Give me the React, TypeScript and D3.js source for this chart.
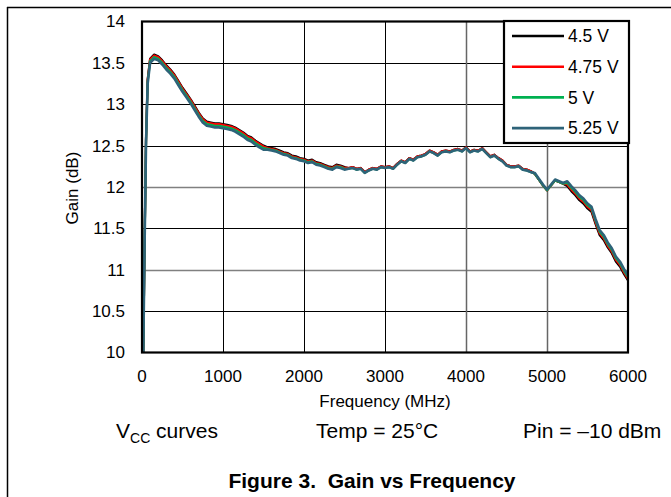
import React from 'react';
import * as d3 from 'd3';

const width = 671;
const height = 497;

// sample frequencies (MHz)
const freqs = [10, 30, 50, 70, 100, ...d3.range(150, 6001, 50)];

const gain45 = [
  9.5, 11.2, 12.6, 13.3, 13.55, 13.6, 13.58, 13.53, 13.47, 13.42, 13.36, 13.28, 13.2, 13.13, 13.06, 12.98, 12.9,
  12.83, 12.79, 12.78, 12.77, 12.77, 12.76, 12.75, 12.74, 12.72, 12.69, 12.66, 12.62, 12.6, 12.56, 12.53, 12.5,
  12.48, 12.47, 12.46, 12.44, 12.42, 12.41, 12.38, 12.37, 12.35, 12.34, 12.32, 12.33, 12.3, 12.29, 12.27, 12.25,
  12.24, 12.27, 12.26, 12.24,
  12.23, 12.24, 12.22, 12.23, 12.18, 12.21, 12.23, 12.22, 12.25, 12.24, 12.25, 12.23, 12.28, 12.32, 12.3, 12.35,
  12.33, 12.37, 12.38, 12.4, 12.44, 12.42, 12.39, 12.43, 12.44, 12.43, 12.45, 12.46, 12.44, 12.48, 12.43, 12.45,
  12.44, 12.47, 12.42, 12.37, 12.39, 12.35, 12.32, 12.27, 12.25, 12.25, 12.26, 12.22, 12.21, 12.19,
  12.16, 12.09, 12.02, 11.96, 12.02, 12.08, 12.06, 12.04,
  12.01, 11.95, 11.9, 11.84, 11.8, 11.74, 11.7, 11.55, 11.42, 11.36, 11.27, 11.2, 11.1, 11.04, 10.95, 10.87,
];

const gain475 = [
  9.5, 11.19, 12.59, 13.29, 13.54, 13.59, 13.57, 13.52, 13.46, 13.41, 13.35, 13.27, 13.19, 13.12, 13.05, 12.97, 12.89,
  12.82, 12.78, 12.77, 12.76, 12.76, 12.75, 12.74, 12.73, 12.71, 12.68, 12.65, 12.61, 12.59, 12.55, 12.52, 12.49,
  12.47, 12.46, 12.45, 12.43, 12.41, 12.4, 12.37, 12.36, 12.34, 12.33, 12.31, 12.32, 12.29, 12.28, 12.26, 12.24,
  12.23, 12.26, 12.25, 12.23,
  12.23, 12.24, 12.22, 12.23, 12.18, 12.21, 12.23, 12.22, 12.25, 12.24, 12.25, 12.23, 12.28, 12.32, 12.3, 12.35,
  12.33, 12.37, 12.38, 12.4, 12.44, 12.42, 12.39, 12.43, 12.44, 12.43, 12.45, 12.46, 12.44, 12.48, 12.43, 12.45,
  12.44, 12.47, 12.42, 12.37, 12.39, 12.35, 12.32, 12.27, 12.25, 12.25, 12.26, 12.22, 12.21, 12.19,
  12.16, 12.09, 12.02, 11.96, 12.02, 12.08, 12.06, 12.04,
  12.03, 11.97, 11.92, 11.86, 11.82, 11.76, 11.72, 11.57, 11.44, 11.38, 11.29, 11.22, 11.12, 11.06, 10.97, 10.89,
];

const gain5 = [
  9.5, 11.17, 12.57, 13.27, 13.52, 13.57, 13.55, 13.5, 13.44, 13.39, 13.33, 13.25, 13.17, 13.1, 13.03, 12.95, 12.87,
  12.8, 12.76, 12.75, 12.74, 12.74, 12.73, 12.72, 12.71, 12.69, 12.66, 12.63, 12.59, 12.57, 12.53, 12.5, 12.47,
  12.46, 12.45, 12.44, 12.42, 12.4, 12.39, 12.36, 12.35, 12.33, 12.32, 12.3, 12.31, 12.28, 12.27, 12.25, 12.23,
  12.22, 12.25, 12.24, 12.22,
  12.22, 12.23, 12.21, 12.22, 12.17, 12.2, 12.22, 12.21, 12.24, 12.23, 12.24, 12.22, 12.27, 12.31, 12.29, 12.34,
  12.32, 12.36, 12.37, 12.39, 12.43, 12.41, 12.38, 12.42, 12.43, 12.42, 12.44, 12.45, 12.43, 12.47, 12.42, 12.44,
  12.43, 12.46, 12.41, 12.36, 12.38, 12.34, 12.31, 12.26, 12.24, 12.24, 12.25, 12.21, 12.2, 12.18,
  12.16, 12.09, 12.02, 11.96, 12.02, 12.08, 12.06, 12.04,
  12.05, 11.99, 11.94, 11.88, 11.84, 11.78, 11.74, 11.59, 11.46, 11.4, 11.31, 11.24, 11.14, 11.08, 10.99, 10.91,
];

const gain525 = [
  9.5, 11.15, 12.55, 13.25, 13.5, 13.55, 13.53, 13.48, 13.42, 13.37, 13.31, 13.23, 13.15, 13.08, 13.01, 12.93, 12.85,
  12.78, 12.74, 12.73, 12.72, 12.72, 12.71, 12.7, 12.69, 12.67, 12.64, 12.61, 12.57, 12.55, 12.51, 12.48, 12.45,
  12.45, 12.44, 12.43, 12.41, 12.39, 12.38, 12.35, 12.34, 12.32, 12.31, 12.29, 12.3, 12.27, 12.26, 12.24, 12.22,
  12.21, 12.24, 12.23, 12.21,
  12.22, 12.23, 12.21, 12.22, 12.17, 12.2, 12.22, 12.21, 12.24, 12.23, 12.24, 12.22, 12.27, 12.31, 12.29, 12.34,
  12.32, 12.36, 12.37, 12.39, 12.43, 12.41, 12.38, 12.42, 12.43, 12.42, 12.44, 12.45, 12.43, 12.47, 12.42, 12.44,
  12.43, 12.46, 12.41, 12.36, 12.38, 12.34, 12.31, 12.26, 12.24, 12.24, 12.25, 12.21, 12.2, 12.18,
  12.17, 12.1, 12.03, 11.97, 12.03, 12.09, 12.07, 12.05,
  12.07, 12.01, 11.96, 11.9, 11.86, 11.8, 11.76, 11.61, 11.48, 11.42, 11.33, 11.26, 11.16, 11.1, 11.01, 10.93,
];

const seriesNames = ['4.5 V', '4.75 V', '5 V', '5.25 V'];
const seriesData = [gain45, gain475, gain5, gain525];
const seriesColors = ['#000000', '#ff0000', '#00b050', '#2e6379'];

const xTicks = [0, 1000, 2000, 3000, 4000, 5000, 6000];
const yTicks = [10, 10.5, 11, 11.5, 12, 12.5, 13, 13.5, 14];

const font = 'Arial, "Liberation Sans", sans-serif';

const App: React.FC = () => {
  const plot = { left: 142, right: 628, top: 21.5, bottom: 352.5 };

  const x = d3.scaleLinear().domain([0, 6000]).range([plot.left, plot.right]);
  const y = d3.scaleLinear().domain([10, 14]).range([plot.bottom, plot.top]);

  const line = d3.line<number>()
    .x((_, i) => x(freqs[i]))
    .y(d => y(d));

  // legend box
  const lg = { x: 504, y: 21, w: 125, h: 122 };
  const lgRow = (i: number) => lg.y + 15 + i * 30.7;

  return (
    <svg
      width={width}
      height={height}
      style={{ position: 'absolute', left: 0, top: 0, background: '#fff' }}
      fontFamily={font}
    >
      <rect x={0} y={0} width={width} height={height} fill="#fff" />
      {/* page frame */}
      <line x1={7} y1={7.5} x2={width} y2={7.5} stroke="#000" strokeWidth={1.5} />
      <line x1={7.5} y1={7} x2={7.5} y2={height} stroke="#000" strokeWidth={1.5} />

      <defs>
        <clipPath id="plotClip">
          <rect x={plot.left} y={plot.top} width={plot.right - plot.left} height={plot.bottom - plot.top} />
        </clipPath>
      </defs>

      {/* grid */}
      {yTicks.slice(1, -1).map(t => (
        <line key={'gy' + t} x1={plot.left} x2={plot.right} y1={Math.round(y(t)) + 0.5} y2={Math.round(y(t)) + 0.5}
          stroke={t === 12 || t === 11 ? '#808080' : '#000'} strokeWidth={t === 12 || t === 11 ? 1.5 : 1} />
      ))}
      {xTicks.slice(1, -1).map(t => (
        <line key={'gx' + t} y1={plot.top} y2={plot.bottom} x1={Math.round(x(t)) + 0.5} x2={Math.round(x(t)) + 0.5}
          stroke={t === 4000 || t === 5000 ? '#666' : '#000'} strokeWidth={t === 4000 || t === 5000 ? 1.5 : 1} />
      ))}

      {/* curves */}
      <g clipPath="url(#plotClip)">
        {seriesData.map((s, i) => (
          <path key={seriesNames[i]} d={line(s) || ''} fill="none" stroke={seriesColors[i]}
            strokeWidth={i === 3 ? 2.6 : 2.2} strokeLinejoin="round" />
        ))}
      </g>

      {/* plot border */}
      <rect x={plot.left} y={plot.top} width={plot.right - plot.left} height={plot.bottom - plot.top}
        fill="none" stroke="#000" strokeWidth={2.2} />

      {/* y ticks */}
      {yTicks.map(t => (
        <text key={'ty' + t} x={125} y={y(t)} dy="0.35em" textAnchor="end" fontSize={17} fill="#000">
          {d3.format('')(t)}
        </text>
      ))}
      {/* x ticks */}
      {xTicks.map(t => (
        <text key={'tx' + t} x={x(t)} y={381.5} textAnchor="middle" fontSize={17} fill="#000">
          {t}
        </text>
      ))}

      <text x={(plot.left + plot.right) / 2} y={407} textAnchor="middle" fontSize={17} fill="#000">
        Frequency (MHz)
      </text>
      <text transform={`translate(78,188) rotate(-90)`} textAnchor="middle" fontSize={17} fill="#000">
        Gain (dB)
      </text>

      {/* legend */}
      <rect x={lg.x} y={lg.y} width={lg.w} height={lg.h} fill="#fff" stroke="#000" strokeWidth={2.2} />
      {seriesNames.map((n, i) => (
        <g key={'lg' + n}>
          <line x1={512} x2={564} y1={lgRow(i)} y2={lgRow(i)} stroke={seriesColors[i]} strokeWidth={2.6} />
          <text x={568} y={lgRow(i)} dy="0.35em" fontSize={17.5} fill="#000">{n}</text>
        </g>
      ))}

      {/* conditions */}
      <text x={116} y={438} fontSize={21} fill="#000">
        V<tspan fontSize={14} dy={5}>CC</tspan><tspan dy={-5}> curves</tspan>
      </text>
      <text x={316} y={438} fontSize={21} fill="#000">Temp = 25°C</text>
      <text x={523} y={438} fontSize={21} fill="#000">Pin = –10 dBm</text>

      <text x={372} y={488} textAnchor="middle" fontSize={21} fontWeight="bold" fill="#000" xmlSpace="preserve">
        Figure 3.  Gain vs Frequency
      </text>
    </svg>
  );
};

export default App;
